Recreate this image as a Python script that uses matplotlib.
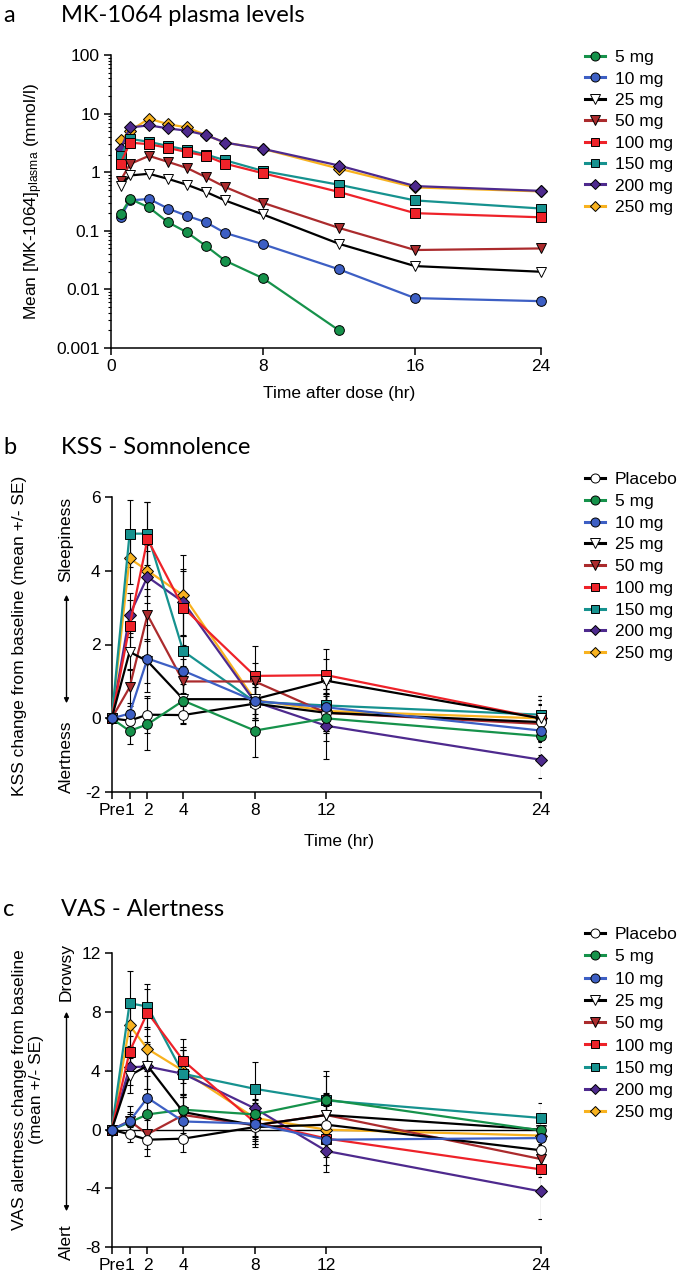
import numpy as np
import matplotlib
matplotlib.use('Agg')
import matplotlib.pyplot as plt
from matplotlib.lines import Line2D

plt.rcParams['font.family'] = ['Liberation Sans', 'DejaVu Sans']
plt.rcParams['mathtext.default'] = 'regular'

# ---------------- data ----------------
doses = ['5 mg', '10 mg', '25 mg', '50 mg', '100 mg', '150 mg', '200 mg', '250 mg']
pd_groups = ['Placebo'] + doses

# Panel a: plasma levels
pk_time = [0.5, 1, 2, 3, 4, 5, 6, 8, 12, 16, 24]
pk_5mg = [0.19, 0.35, 0.25, 0.14, 0.094, 0.055, 0.031, 0.0155, 0.002]
pk_10mg = [0.17, 0.33, 0.35, 0.24, 0.18, 0.14, 0.092, 0.059, 0.022, 0.0071, 0.0063]
pk_25mg = [0.59, 0.88, 0.94, 0.77, 0.61, 0.46, 0.33, 0.19, 0.06, 0.025, 0.02]
pk_50mg = [0.72, 1.38, 1.9, 1.5, 1.18, 0.82, 0.56, 0.30, 0.112, 0.047, 0.05]
pk_100mg = [1.4, 3.2, 3.0, 2.6, 2.2, 1.9, 1.4, 0.96, 0.46, 0.20, 0.17]
pk_150mg = [1.9, 3.7, 3.3, 2.8, 2.4, 2.0, 1.6, 1.05, 0.61, 0.33, 0.24]
pk_200mg = [2.5, 5.8, 6.3, 5.6, 5.1, 4.3, 3.2, 2.5, 1.3, 0.58, 0.48]
pk_250mg = [3.5, 5.1, 8.2, 6.6, 5.8, 4.3, 3.2, 2.5, 1.15, 0.55, 0.47]
pk_series = [pk_5mg, pk_10mg, pk_25mg, pk_50mg, pk_100mg, pk_150mg, pk_200mg, pk_250mg]
pk_xticks = [0, 8, 16, 24]
pk_yticks = [0.001, 0.01, 0.1, 1, 10, 100]
pk_yticklabels = ['0.001', '0.01', '0.1', '1', '10', '100']

# Panels b, c: times (Pre = 0)
pd_time = [0, 1, 2, 4, 8, 12, 24]
pd_ticklabels = ['Pre', '1', '2', '4', '8', '12', '24']

# Panel b: KSS change from baseline (mean) and SE
kss_placebo = [0, -0.06, 0.10, 0.09, 0.40, 0.15, -0.10]
kss_5mg = [0, -0.34, -0.16, 0.48, -0.33, 0.00, -0.48]
kss_10mg = [0, 0.13, 1.62, 1.29, 0.47, 0.30, -0.33]
kss_25mg = [0, 1.80, 1.55, 0.52, 0.52, 1.02, 0.00]
kss_50mg = [0, 0.84, 2.80, 1.00, 1.00, 0.15, -0.15]
kss_100mg = [0, 2.50, 4.85, 3.00, 1.15, 1.17, 0.00]
kss_150mg = [0, 5.00, 5.00, 1.82, 0.45, 0.35, 0.10]
kss_200mg = [0, 2.80, 3.83, 3.15, 0.45, -0.20, -1.12]
kss_250mg = [0, 4.33, 4.00, 3.33, 0.50, 0.20, 0.00]
kss_mean = [kss_placebo, kss_5mg, kss_10mg, kss_25mg, kss_50mg, kss_100mg,
            kss_150mg, kss_200mg, kss_250mg]
kss_se_placebo = [0, 0.30, 0.50, 0.25, 0.45, 0.50, 0.50]
kss_se_5mg = [0, 0.35, 0.70, 0.60, 0.72, 0.60, 0.50]
kss_se_10mg = [0, 0.30, 0.90, 0.60, 0.50, 0.50, 0.45]
kss_se_25mg = [0, 0.50, 0.60, 0.40, 0.40, 0.60, 0.50]
kss_se_50mg = [0, 0.50, 0.70, 0.60, 0.50, 0.50, 0.50]
kss_se_100mg = [0, 0.70, 1.00, 1.00, 0.80, 0.70, 0.50]
kss_se_150mg = [0, 0.90, 0.85, 0.40, 0.50, 0.60, 0.50]
kss_se_200mg = [0, 0.60, 0.70, 0.90, 0.50, 0.90, 0.50]
kss_se_250mg = [0, 0.70, 0.70, 1.10, 0.50, 0.60, 0.60]
kss_se = [kss_se_placebo, kss_se_5mg, kss_se_10mg, kss_se_25mg, kss_se_50mg,
          kss_se_100mg, kss_se_150mg, kss_se_200mg, kss_se_250mg]

# Panel c: VAS alertness change from baseline (mean) and SE
vas_placebo = [0, -0.32, -0.68, -0.61, 0.18, 0.34, -1.40]
vas_5mg = [0, 0.50, 1.04, 1.36, 1.04, 2.05, -0.05]
vas_10mg = [0, 0.58, 2.17, 0.56, 0.41, -0.68, -0.57]
vas_25mg = [0, 3.68, 4.36, 1.20, 0.30, 1.00, 0.00]
vas_50mg = [0, 0.60, -0.30, 1.00, 0.30, 1.00, -2.00]
vas_100mg = [0, 5.31, 7.97, 4.70, 0.50, -0.60, -2.70]
vas_150mg = [0, 8.60, 8.38, 3.80, 2.78, 1.99, 0.80]
vas_200mg = [0, 4.25, 4.30, 3.80, 1.45, -1.45, -4.20]
vas_250mg = [0, 7.10, 5.50, 4.00, 0.80, 0.00, -0.40]
vas_mean = [vas_placebo, vas_5mg, vas_10mg, vas_25mg, vas_50mg, vas_100mg,
            vas_150mg, vas_200mg, vas_250mg]
vas_se_placebo = [0, 0.5, 0.6, 0.9, 0.8, 1.0, 1.0]
vas_se_5mg = [0, 0.6, 1.2, 1.0, 1.5, 1.6, 1.0]
vas_se_10mg = [0, 0.6, 1.5, 1.0, 1.2, 1.2, 1.0]
vas_se_25mg = [0, 1.2, 1.6, 1.2, 1.5, 1.5, 1.0]
vas_se_50mg = [0, 1.0, 1.5, 1.2, 1.3, 1.4, 1.2]
vas_se_100mg = [0, 1.5, 1.6, 1.5, 1.5, 1.8, 1.5]
vas_se_150mg = [0, 2.2, 1.5, 1.6, 1.8, 2.0, 1.0]
vas_se_200mg = [0, 1.2, 1.5, 1.6, 1.5, 1.4, 1.9]
vas_se_250mg = [0, 1.4, 1.5, 1.6, 1.3, 1.6, 1.2]
vas_se = [vas_se_placebo, vas_se_5mg, vas_se_10mg, vas_se_25mg, vas_se_50mg,
          vas_se_100mg, vas_se_150mg, vas_se_200mg, vas_se_250mg]

# ---------------- styles ----------------
STY = {
    'Placebo': dict(color='black', marker='o', mfc='white'),
    '5 mg': dict(color='#16924b', marker='o', mfc='#16924b'),
    '10 mg': dict(color='#3d5fc4', marker='o', mfc='#3d5fc4'),
    '25 mg': dict(color='black', marker='v', mfc='white'),
    '50 mg': dict(color='#ab2b2d', marker='v', mfc='#ab2b2d'),
    '100 mg': dict(color='#ee2229', marker='s', mfc='#ee2229'),
    '150 mg': dict(color='#16928f', marker='s', mfc='#16928f'),
    '200 mg': dict(color='#4e2a8e', marker='D', mfc='#4e2a8e'),
    '250 mg': dict(color='#f8b21f', marker='D', mfc='#f8b21f'),
}
MS = {'o': 7, 'v': 7.5, 's': 6.5, 'D': 6}
LW = 1.6
FS = 12.5

W, H = 685, 1277
fig = plt.figure(figsize=(W / 100, H / 100), dpi=100)


def fx(px):
    return px / W


def fy(py):
    return 1 - py / H


def add_ax(l, t, r, b):
    ax = fig.add_axes([fx(l), fy(b), (r - l) / W, (b - t) / H])
    for s in ('top', 'right'):
        ax.spines[s].set_visible(False)
    for s in ('left', 'bottom'):
        ax.spines[s].set_linewidth(1.1)
    ax.tick_params(direction='out', length=5, width=1.1, labelsize=FS, pad=3)
    return ax


def plot_series(ax, x, y, name, z):
    st = STY[name]
    ax.plot(x, y, color=st['color'], lw=LW, marker=st['marker'], mfc=st['mfc'],
            mec='black', mew=0.7, ms=MS[st['marker']], zorder=z, clip_on=False)


def legend(ax, names, left, top, spacing):
    handles = []
    for n in names:
        st = STY[n]
        handles.append(Line2D([], [], color=st['color'], lw=2.2, marker=st['marker'],
                              mfc=st['mfc'], mec='black', mew=0.7, ms=MS[st['marker']] - 0.5))
    ax.legend(handles, names, loc='upper left', bbox_to_anchor=(fx(left), fy(top)),
              bbox_transform=fig.transFigure, frameon=False, fontsize=FS,
              handlelength=1.15, handletextpad=0.55, labelspacing=spacing,
              borderpad=0, borderaxespad=0)


def title(letter, text, y):
    fig.text(fx(3), fy(y), letter, fontsize=17, family=['Lato', 'DejaVu Sans'], va='center')
    fig.text(fx(61), fy(y), text, fontsize=17, family=['Lato', 'DejaVu Sans'], va='center')


# ---------------- panel a ----------------
axA = add_ax(111, 55, 541, 348)
r = 126 / 152


def fwd(t):
    t = np.asarray(t, dtype=float)
    return np.where(t <= 16, t, 16 + (t - 16) * r)


def inv(u):
    u = np.asarray(u, dtype=float)
    return np.where(u <= 16, u, 16 + (u - 16) / r)


axA.set_xscale('function', functions=(fwd, inv))
axA.set_yscale('log')
axA.set_xlim(0, 24)
axA.set_ylim(0.001, 100)
draw_order = [7, 6, 5, 4, 3, 2, 1, 0]
for z, i in enumerate(draw_order):
    y = pk_series[i]
    plot_series(axA, pk_time[:len(y)], y, doses[i], 3 + z)
axA.set_xticks(pk_xticks)
axA.set_xticklabels([str(t) for t in pk_xticks])
axA.set_yticks(pk_yticks)
axA.set_yticklabels(pk_yticklabels)
axA.yaxis.set_minor_locator(matplotlib.ticker.LogLocator(base=10, subs=np.arange(2, 10), numticks=20))
axA.yaxis.set_minor_formatter(matplotlib.ticker.NullFormatter())
axA.tick_params(axis='y', which='minor', length=2.5, width=0.8)
axA.set_xlabel('Time after dose (hr)', fontsize=FS, labelpad=8)
axA.xaxis.set_label_coords((339 - 111) / 430, -0.13)
axA.set_ylabel('Mean [MK-1064]$_{plasma}$ (mmol/l)', fontsize=FS)
axA.yaxis.set_label_coords((45 - 111) / 430, 0.5)
legend(axA, doses, 585, 50, 0.36)
title('a', 'MK-1064 plasma levels', 16)


# ---------------- panels b, c ----------------
def pd_panel(ax, means, ses, ylim, yticks):
    ax.set_xlim(0, 24)
    ax.set_ylim(*ylim)
    order = [8, 7, 6, 5, 4, 0, 3, 1, 2]
    for i in order:
        ax.errorbar(pd_time[1:], means[i][1:], yerr=ses[i][1:], fmt='none',
                    ecolor='black', elinewidth=0.8, capsize=2.3, capthick=0.8, zorder=1)
    for z, i in enumerate(order):
        plot_series(ax, pd_time, means[i], pd_groups[i], 3 + z)
    ax.set_xticks(pd_time)
    ax.set_xticklabels(pd_ticklabels)
    ax.set_yticks(yticks)
    ax.set_yticklabels([str(v) for v in yticks])


axB = add_ax(111.7, 496.7, 541, 792.3)
pd_panel(axB, kss_mean, kss_se, (-2, 6), [-2, 0, 2, 4, 6])
axB.set_xlabel('Time (hr)', fontsize=FS)
axB.xaxis.set_label_coords((339 - 111.7) / 429.3, -0.14)
fig.text(fx(20), fy(636), 'KSS change from baseline (mean +/- SE)', rotation=90,
         fontsize=FS, ha='center', va='center')
fig.text(fx(66), fy(539), 'Sleepiness', rotation=90, fontsize=FS, ha='center', va='center')
fig.text(fx(66), fy(757), 'Alertness', rotation=90, fontsize=FS, ha='center', va='center')
fig.add_artist(matplotlib.patches.FancyArrowPatch(
    (fx(66.5), fy(706)), (fx(66.5), fy(592)), transform=fig.transFigure,
    arrowstyle='<|-|>', mutation_scale=7, lw=1.0, color='black'))
legend(axB, pd_groups, 585, 472, 0.38)
title('b', 'KSS - Somnolence', 447)

axC = add_ax(111.7, 953.3, 541, 1247.3)
axC.axhline(0, color='black', lw=1.0, zorder=0)
pd_panel(axC, vas_mean, vas_se, (-8, 12), [-8, -4, 0, 4, 8, 12])
fig.text(fx(28), fy(1090), 'VAS alertness change from baseline\n(mean +/- SE)', rotation=90,
         fontsize=FS, ha='center', va='center', multialignment='center', linespacing=1.2)
fig.text(fx(66), fy(972), 'Drowsy', rotation=90, fontsize=FS, ha='center', va='center')
fig.text(fx(66), fy(1242), 'Alert', rotation=90, fontsize=FS, ha='center', va='center')
fig.add_artist(matplotlib.patches.FancyArrowPatch(
    (fx(66.5), fy(1214)), (fx(66.5), fy(1009)), transform=fig.transFigure,
    arrowstyle='<|-|>', mutation_scale=7, lw=1.0, color='black'))
legend(axC, pd_groups, 585, 927, 0.41)
title('c', 'VAS - Alertness', 910)

fig.savefig('out.png', dpi=100)
